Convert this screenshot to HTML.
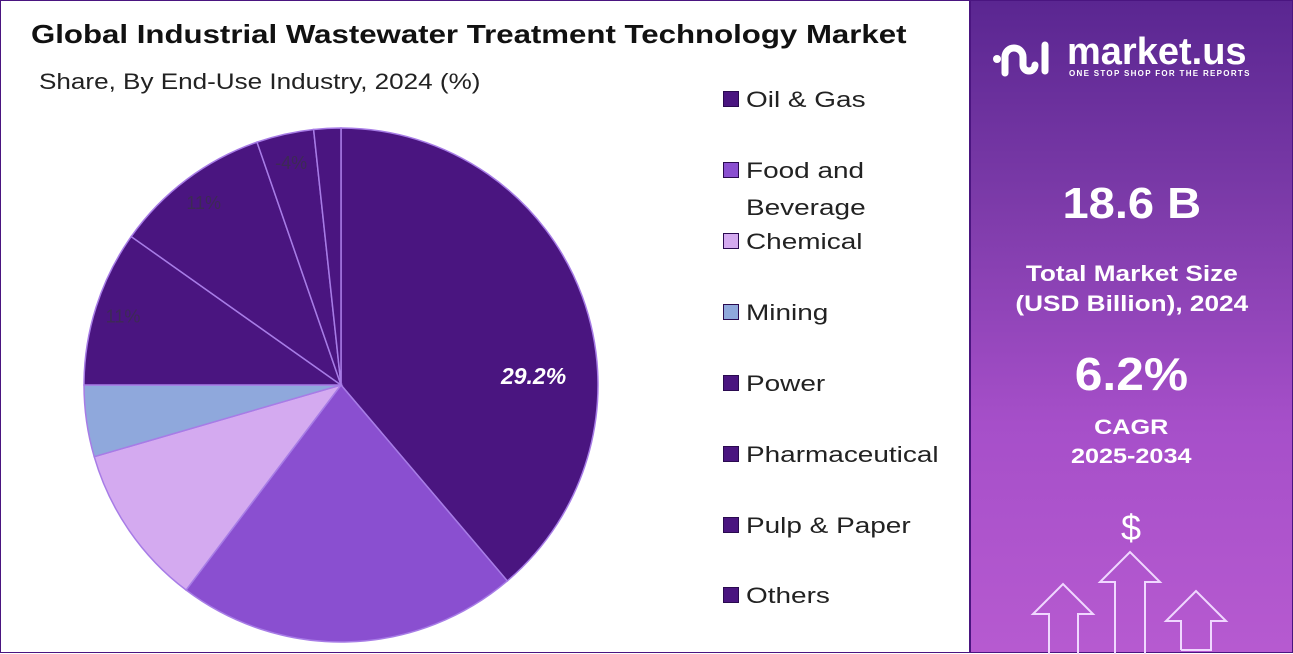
<!DOCTYPE html>
<html><head><meta charset="utf-8">
<style>
body{margin:0;width:1293px;height:653px;overflow:hidden;background:#fff;font-family:"Liberation Sans",sans-serif;}
#wrap{position:absolute;left:0;top:0;width:1291px;height:651px;border:1px solid #4a1580;}
#left{position:absolute;left:0;top:0;width:968px;height:651px;border-right:2px solid #4a1580;}
#right{position:absolute;left:970px;top:0;width:321px;height:651px;background:linear-gradient(180deg,#5a2691 0%,#7b3aa8 30%,#a64fc9 65%,#b65ad0 100%);color:#fff;text-align:center;}
.title{position:absolute;left:30px;top:18px;font-size:26px;font-weight:bold;color:#111;transform:scaleX(1.2);transform-origin:0 0;white-space:nowrap;}
.sub{position:absolute;left:38px;top:68px;font-size:22px;color:#222;transform:scaleX(1.185);transform-origin:0 0;white-space:nowrap;}
.leg{position:absolute;left:722px;font-size:22px;color:#222;line-height:37px;white-space:nowrap;}
.leg i{display:inline-block;width:16px;height:16px;margin-right:7px;vertical-align:-1px;border:1px solid #2a0a50;box-sizing:border-box;}
.leg span{display:inline-block;transform:scaleX(1.27);transform-origin:0 0;}
.sx{display:inline-block;}
</style></head><body>
<div id="wrap">
<div id="left">
<div class="title">Global Industrial Wastewater Treatment Technology Market</div>
<div class="sub">Share, By End-Use Industry, 2024 (%)</div>
<svg id="pie" width="968" height="651" style="position:absolute;left:0;top:0"></svg>
<div id="legend"></div>
</div>
<div id="right">
<div style="position:absolute;left:20px;top:36px;width:290px;height:45px;">
<svg width="64" height="44" style="position:absolute;left:0;top:0">
<circle cx="6" cy="22" r="4" fill="#fff"/>
<path d="M14 36 V20 a9 9 0 0 1 18 0 V28 a6 6 0 0 0 12 0" stroke="#fff" stroke-width="7" fill="none" stroke-linecap="round"/>
<line x1="54" y1="8" x2="54" y2="34" stroke="#fff" stroke-width="7" stroke-linecap="round"/>
</svg>
<div style="position:absolute;left:76px;top:-6px;font-size:38px;font-weight:bold;">market.us</div>
<div style="position:absolute;left:78px;top:32px;font-size:8px;font-weight:bold;letter-spacing:1.3px;">ONE STOP SHOP FOR THE REPORTS</div>
</div>
<div style="position:absolute;left:0;width:321px;top:178px;font-size:44px;font-weight:bold;"><span class="sx" style="transform:scaleX(1.07)">18.6 B</span></div>
<div style="position:absolute;left:0;width:321px;top:258px;font-size:22px;font-weight:bold;line-height:30px;"><span class="sx" style="transform:scaleX(1.19)">Total Market Size<br>(USD Billion), 2024</span></div>
<div style="position:absolute;left:0;width:321px;top:346px;font-size:46px;font-weight:bold;"><span class="sx" style="transform:scaleX(1.08)">6.2%</span></div>
<div style="position:absolute;left:0;width:321px;top:412px;font-size:21px;font-weight:bold;line-height:29px;"><span class="sx" style="transform:scaleX(1.2)">CAGR<br>2025-2034</span></div>
<svg width="321" height="160" style="position:absolute;left:0;top:493px">
<text x="160" y="46" font-size="36" fill="#fff" text-anchor="middle" font-family="Liberation Sans">$</text>
<g stroke="#f0d8ff" stroke-width="2" fill="none">
<path d="M78 160 V120 H62 L92 90 L122 120 H107 V160"/>
<path d="M144 160 V88 H129 L159 58 L189 88 H174 V160"/>
<path d="M210 156 V127 H195 L225 97 L255 127 H240 V156 H210"/>
</g></svg>
</div>
</div>
<script>
const categories=["Oil & Gas","Food and Beverage","Chemical","Mining","Power","Pharmaceutical","Pulp & Paper","Others"];
const values=[38.8,21.5,10.2,4.5,9.8,9.9,3.6,1.7];
const colors=["#4a1580","#8a4fd0","#d4aaf0","#8fa8dc","#4a1580","#4a1580","#4a1580","#4a1580"];
const sliceLabels=["29.2%","","","","11%","11%","-4%",""];
const legendTops=[80,151,222,293,364,435,506,576];
const NS="http://www.w3.org/2000/svg";
const svg=document.getElementById('pie');
const cx=340,cy=384,r=257;
const total=values.reduce((a,b)=>a+b,0);
function pt(a,rr){return [cx+rr*Math.sin(a),cy-rr*Math.cos(a)];}
let acc=0;
values.forEach((v,i)=>{
  const a0=acc/total*2*Math.PI; acc+=v; const a1=acc/total*2*Math.PI;
  const p0=pt(a0,r),p1=pt(a1,r);
  const path=document.createElementNS(NS,'path');
  path.setAttribute('d',`M${cx},${cy} L${p0[0]},${p0[1]} A${r},${r} 0 ${a1-a0>Math.PI?1:0} 1 ${p1[0]},${p1[1]} Z`);
  path.setAttribute('fill',colors[i]);
  path.setAttribute('stroke','#a77ce6');
  path.setAttribute('stroke-width','1.5');
  
  
  svg.appendChild(path);
  if(sliceLabels[i]){
    const am=i===0?a0+(a1-a0)*0.627:(a0+a1)/2;
    const lp=pt(am,i===0?r*0.75:r*0.89);
    const t=document.createElementNS(NS,'text');
    t.setAttribute('x',lp[0]);t.setAttribute('y',lp[1]+7);
    t.setAttribute('text-anchor','middle');
    t.setAttribute('font-family','Liberation Sans, sans-serif');
    if(i===0){t.setAttribute('fill','#fff');t.setAttribute('font-size','23');t.setAttribute('font-weight','bold');t.setAttribute('font-style','italic');}
    else{t.setAttribute('fill','#3d2a55');t.setAttribute('font-size','18');}
    t.textContent=sliceLabels[i];
    
    
    svg.appendChild(t);
  }
});
const leg=document.getElementById('legend');
categories.forEach((c,i)=>{
  const d=document.createElement('div');
  d.className='leg';
  d.style.top=legendTops[i]+'px';
  
  
  const label=c==="Food and Beverage"?"Food and<br>Beverage":c.replace('&','&amp;');
  d.innerHTML=`<i style="background:${colors[i]};vertical-align:top;margin-top:10px"></i><span>${label}</span>`;
  leg.appendChild(d);
});
</script>
</body></html>
